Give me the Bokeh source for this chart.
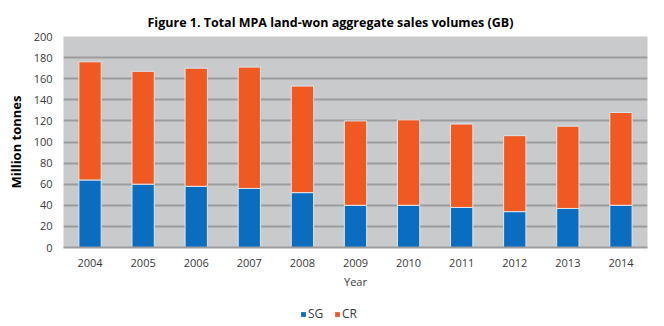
from bokeh.plotting import figure
from bokeh.layouts import column
from bokeh.models import Legend, LegendItem, FactorRange, Title
from bokeh.embed import file_html
from bokeh.resources import INLINE

years = ["2004", "2005", "2006", "2007", "2008", "2009", "2010", "2011", "2012", "2013", "2014"]
sg = [64, 60, 58, 56, 52, 40, 40, 38, 34, 37, 40]
total = [176, 167, 170, 171, 153, 120, 121, 117, 106, 115, 128]
cr = [t - s for t, s in zip(total, sg)]
y_ticks = [0, 20, 40, 60, 80, 100, 120, 140, 160, 180, 200]

data = dict(year=years, SG=sg, CR=cr)
colors = ["#0b6dbf", "#f05a22"]

FONT = "Open Sans"

p = figure(width=664, height=296, x_range=FactorRange(*years), y_range=(0, 200),
           output_backend="svg", toolbar_location=None,
           min_border_left=63, min_border_right=17, min_border_top=36, min_border_bottom=49)

p.background_fill_color = "#c9cacc"
p.border_fill_color = "white"
p.outline_line_color = None

p.vbar_stack(["SG", "CR"], x="year", width=0.42, source=data,
             color=colors, line_color="#dfe5ec", line_width=1)

p.xgrid.grid_line_color = None
p.ygrid.grid_line_color = "#9c9c9c"
p.ygrid.grid_line_width = 2
p.yaxis.ticker = y_ticks

for ax in (p.xaxis, p.yaxis):
    ax.major_tick_line_color = None
    ax.minor_tick_line_color = None
    ax.major_label_text_font = FONT
    ax.major_label_text_font_size = "11px"
    ax.major_label_text_color = "#3a3a3a"
    ax.axis_label_text_font = FONT

p.yaxis.axis_line_color = None
p.xaxis.axis_line_color = "#9c9c9c"
p.xaxis.axis_line_width = 2
p.yaxis.major_label_standoff = 5
p.xaxis.major_label_standoff = 5

p.yaxis.axis_label = "Million tonnes"
p.yaxis.axis_label_text_font_style = "bold"
p.yaxis.axis_label_text_font_size = "13px"
p.yaxis.axis_label_text_color = "black"
p.yaxis.axis_label_standoff = 6

p.xaxis.axis_label = "Year"
p.xaxis.axis_label_text_font_style = "normal"
p.xaxis.axis_label_text_font_size = "11px"
p.xaxis.axis_label_text_color = "#3a3a3a"
p.xaxis.axis_label_standoff = 4

title = Title(text="Figure 1. Total MPA land-won aggregate sales volumes (GB)",
              align="left", offset=84, text_font=FONT, text_font_size="12.5px",
              text_font_style="bold", text_color="black", standoff=12)
p.add_layout(title, "above")

# Legend strip below the chart (its bars lie outside its visible range)
q = figure(width=664, height=30, x_range=FactorRange(*years), y_range=(1000, 1001),
           output_backend="svg", toolbar_location=None,
           min_border_left=0, min_border_right=0, min_border_top=0, min_border_bottom=0)
q.axis.visible = False
q.grid.grid_line_color = None
q.outline_line_color = None
q.background_fill_color = "white"
q.border_fill_color = "white"
leg_r = q.vbar_stack(["SG", "CR"], x="year", width=0.42, source=data,
                     color=colors, line_color=None)

legend = Legend(items=[LegendItem(label="SG", renderers=[leg_r[0]]),
                       LegendItem(label="CR", renderers=[leg_r[1]])],
                orientation="horizontal", location=(237, 4),
                glyph_width=6, glyph_height=6, label_text_font=FONT,
                label_text_font_size="12px", label_text_color="#3a3a3a",
                label_standoff=2, spacing=6, padding=2, margin=0,
                background_fill_alpha=0, border_line_color=None)
q.add_layout(legend, "center")

layout = column(p, q, spacing=0)
open("out.html", "w").write(file_html(layout, INLINE))
